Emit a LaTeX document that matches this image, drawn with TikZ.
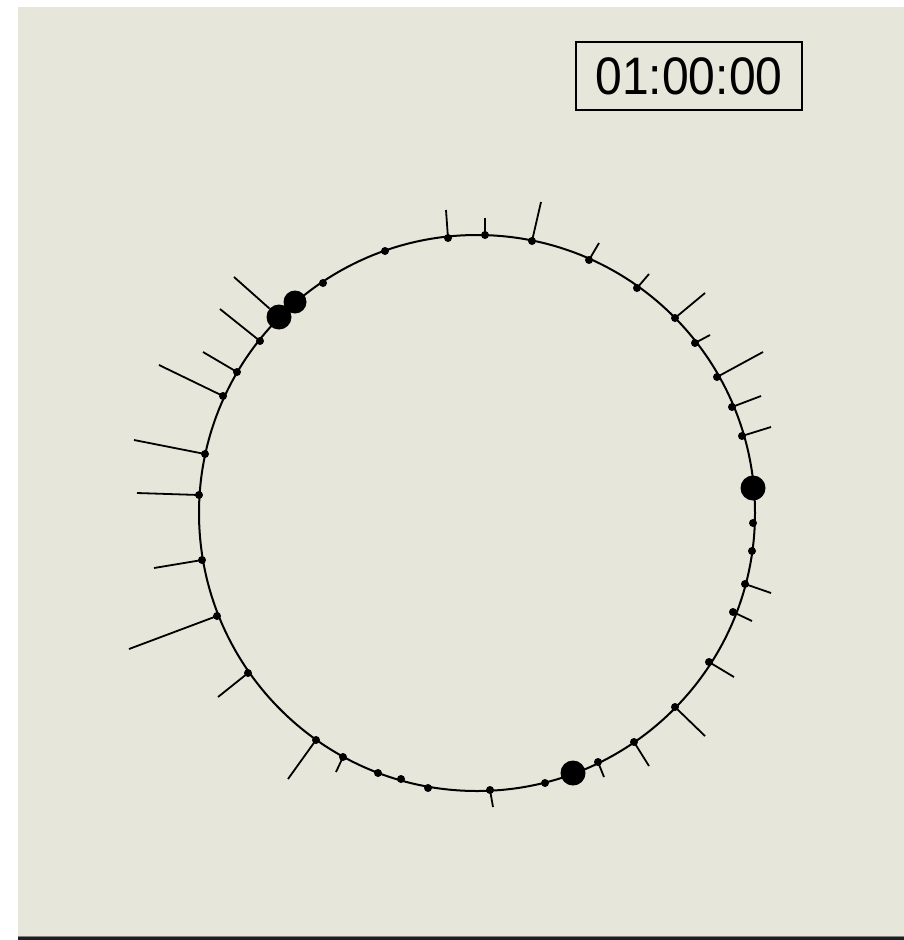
\documentclass[tikz,border=0pt]{standalone}
\usepackage{fontspec}
\setmainfont{Liberation Sans}
\definecolor{bg}{HTML}{E6E6DA}
\definecolor{edge}{HTML}{1E1E1E}
\tikzset{
  dot/.style={circle, fill=black, inner sep=0pt, minimum size=8pt},
  bigdot/.style={circle, fill=black, inner sep=0pt, minimum size=25pt},
  spoke/.style={line width=1.8pt},
  ring/.style={circle, draw=black, line width=2pt, inner sep=0pt, minimum size=556pt},
  clockbox/.style={draw=black, line width=2pt, inner sep=0pt, minimum width=226pt, minimum height=68pt}
}
\begin{document}
\begin{tikzpicture}[x=1pt, y=-1pt]
\useasboundingbox (0,0) rectangle (904,940);
\fill[white] (0,0) rectangle (904,940);
\fill[bg] (18,7) rectangle (904,937);
\fill[edge] (18,937) rectangle (904,940);
\draw[gray, line width=0.8pt] (18,936) -- (904,936);

\node[clockbox] (clock) at (689,76) {\scalebox{1}[1.1]{\fontsize{48}{48}\selectfont 01:00:00}};

\node[ring] (ring) at (477,513) {};

% dots with spokes
\foreach \n/\x/\y/\ex/\ey in {
  d3/260/341/220/309, d4/237/372/203/352, d5/223/396/159/365,
  d6/205/454/134/440, d7/199/495/137/493, d8/202/560/154/568,
  d9/217/616/129/649, d10/248/673/218/697, d11/316/740/288/779,
  d12/343/757/336/772, d16/490/790/493/807, d18/598/762/604/777,
  d19/634/742/649/766, d20/675/707/705/736, d21/709/662/734/677,
  d22/733/612/752/621, d23/745/584/771/593, d26/742/436/771/427,
  d27/732/407/761/396, d28/717/377/763/352, d29/695/343/710/335,
  d30/675/318/705/293, d31/637/288/649/274, d32/589/260/599/243,
  d33/532/241/541/202, d34/485/235/485/218, d35/448/238/446/210}{
  \node[dot] (\n) at (\x,\y) {};
  \coordinate (\n e) at (\ex,\ey);
  \draw[spoke] (\n.center) -- (\n e);
}

% dots without spokes
\foreach \n/\x/\y in {d1/385/251, d2/323/283, d13/378/773, d14/401/779,
  d15/428/788, d17/545/783, d24/752/551, d25/753/523}{
  \node[dot] (\n) at (\x,\y) {};
}

% big dots
\node[bigdot, minimum size=23pt] (B1) at (295,302) {};
\node[bigdot] (B2) at (279,317) {};
\coordinate (B2e) at (234,277);
\draw[spoke] (B2) -- (B2e);
\node[bigdot] (B3) at (573,773) {};
\node[bigdot] (B4) at (753,488) {};
\end{tikzpicture}
\end{document}
